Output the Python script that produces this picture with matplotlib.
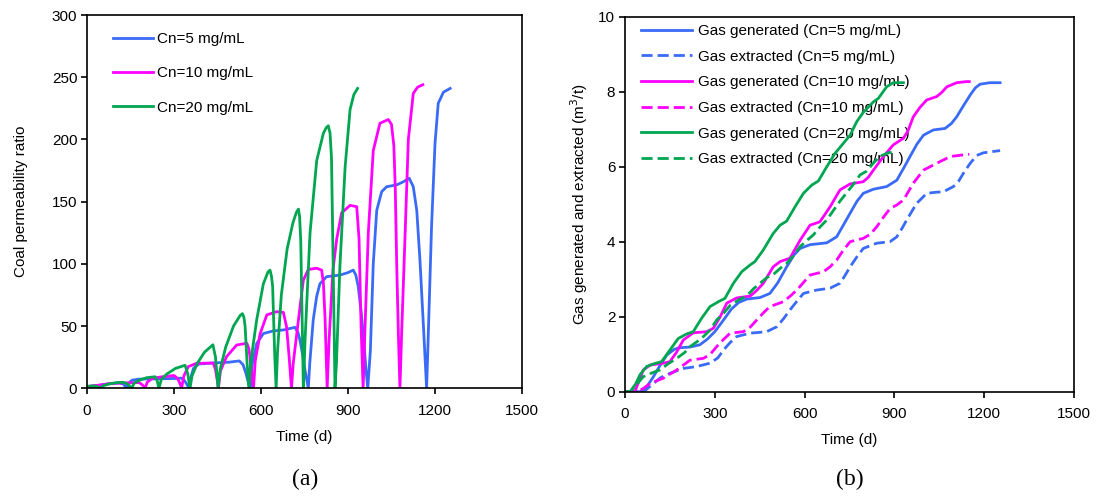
import matplotlib
matplotlib.use('Agg')
import matplotlib.pyplot as plt

plt.rcParams['font.family'] = ['Liberation Sans', 'DejaVu Sans']

# ---------- (a) coal permeability ratio ----------
perm_t_5 = [0, 30, 70, 110, 125, 132, 137,
            143, 155, 180, 240, 300, 325, 335, 345, 351,
            357, 367, 385, 430, 490, 525, 538, 548, 557, 563,
            570, 585, 608, 640, 680, 717, 727, 734, 745, 752, 763,
            768, 780, 792, 803, 826, 872, 900, 918, 927, 935, 945, 953, 962, 968,
            977, 987, 999, 1016, 1033, 1068, 1091, 1111, 1125, 1137, 1148, 1160, 1171,
            1177, 1188, 1200, 1211, 1229, 1252]
perm_v_5 = [1.2, 2.0, 3.5, 4.3, 3.5, 1.5, 0,
            4, 6.5, 7.4, 7.6, 7.9, 8.2, 6.5, 3, 0,
            8, 16, 19.5, 20.3, 21, 22, 19, 12, 4, 0,
            20, 36, 44, 46, 47, 49, 45, 39, 25, 14, 0,
            20, 55, 74, 84, 89.7, 91, 93, 95, 91, 82, 62, 42, 15, 0,
            30, 100, 143, 158, 162, 163.5, 166, 168.8, 162, 143, 103, 50, 0,
            45, 130, 197, 229, 238, 241]

perm_t_10 = [0, 40, 80, 120, 180, 192, 200,
             208, 225, 260, 300, 312, 320, 326,
             334, 349, 378, 435, 443, 448, 453,
             460, 481, 516, 551, 558, 562, 568, 574,
             580, 597, 620, 654, 677, 688, 697, 705,
             711, 729, 746, 763, 792, 809, 815, 821, 828,
             835, 848, 861, 878, 907, 930, 938, 945, 952,
             958, 970, 987, 1010, 1039, 1050, 1058, 1063, 1068, 1074, 1079,
             1085, 1097, 1108, 1125, 1140, 1158]
perm_v_10 = [1.5, 2.5, 3.8, 4.3, 4.6, 2.5, 0,
             5, 8, 9.3, 10.3, 8, 4, 0,
             10, 17.4, 20.1, 20.3, 15, 8, 0,
             14, 25.4, 34.8, 36.2, 32, 25, 10, 0,
             22, 44, 59, 61.6, 61, 49.5, 25, 0,
             20, 55, 87, 95.5, 96.5, 95, 85, 55, 0,
             40, 95, 120, 141, 147, 146, 120, 50, 0,
             45, 125, 191, 213, 216, 212, 195, 160, 98, 40, 0,
             45, 125, 200, 237, 242, 244]

perm_t_20 = [0, 20, 35, 45,
             55, 75, 100, 125, 140, 154,
             162, 180, 205, 235, 242, 248,
             256, 275, 305, 338, 347, 355,
             362, 380, 405, 434, 443, 452,
             459, 478, 505, 528, 536, 541, 545, 552, 558,
             565, 585, 608, 624, 631, 636, 640, 647, 652,
             657, 670, 690, 710, 722, 729, 733, 737, 741, 746,
             752, 769, 792, 815, 825, 832, 838, 843, 849, 855,
             860, 872, 890, 907, 920, 933]
perm_v_20 = [1.5, 2.0, 1.5, 0,
             2.0, 3.5, 4.5, 4.8, 3.5, 0,
             4.0, 6.5, 8.5, 9.3, 6, 0,
             7, 11.5, 16, 18.5, 12, 0,
             10, 20, 29, 35, 25, 0,
             15, 33, 50, 58.5, 60, 57, 50, 20, 0,
             22, 55, 84, 93.5, 95, 90, 82, 28, 0,
             30, 75, 112, 133, 141.5, 144, 138, 118, 65, 0,
             40, 125, 183, 205, 209.5, 211, 205, 185, 95, 0,
             20, 98, 178, 224, 236, 241]

# ---------- (b) gas generated / extracted ----------
gen_t_5 = [0, 50, 70, 95, 117, 140, 165, 180, 217, 250, 275, 300, 329, 355, 380, 407,
           451, 484, 510, 540, 565, 585, 618, 674, 707, 730, 752, 775, 796, 830, 874,
           908, 930, 952, 975, 997, 1030, 1069, 1090, 1108, 1130, 1153, 1170, 1186,
           1219, 1253]
gen_v_5 = [0, 0, 0.1, 0.4, 0.7, 0.98, 1.13, 1.17, 1.19, 1.25, 1.4, 1.6, 1.91, 2.2, 2.38,
           2.47, 2.51, 2.62, 2.9, 3.33, 3.65, 3.82, 3.92, 3.97, 4.13, 4.45, 4.76, 5.08,
           5.29, 5.4, 5.47, 5.64, 5.95, 6.27, 6.6, 6.84, 6.98, 7.02, 7.15, 7.33, 7.62,
           7.91, 8.1, 8.2, 8.24, 8.24]

ext_t_5 = [0, 50, 70, 95, 120, 150, 195, 239, 284, 310, 329, 350, 373, 418, 473, 507,
           530, 551, 575, 596, 640, 685, 718, 735, 752, 775, 796, 841, 885, 908, 925,
           941, 974, 1008, 1040, 1063, 1097, 1115, 1130, 1153, 1175, 1197, 1253]
ext_v_5 = [0, 0, 0.05, 0.22, 0.38, 0.49, 0.62, 0.67, 0.76, 0.9, 1.11, 1.3, 1.47, 1.56,
           1.6, 1.73, 1.95, 2.18, 2.42, 2.62, 2.71, 2.76, 2.89, 3.1, 3.33, 3.6, 3.82,
           3.96, 4.0, 4.13, 4.35, 4.58, 5.02, 5.29, 5.32, 5.33, 5.47, 5.62, 5.82, 6.09,
           6.3, 6.37, 6.43]

gen_t_10 = [0, 33, 61, 84, 128, 150, 172, 195, 228, 273, 295, 318, 340, 373, 418, 440,
            462, 495, 518, 551, 585, 618, 651, 685, 718, 752, 796, 813, 830, 863, 896,
            930, 945, 963, 985, 1008, 1041, 1058, 1075, 1108, 1141, 1150]
gen_v_10 = [0, 0, 0.58, 0.71, 0.76, 0.8, 1.05, 1.38, 1.57, 1.6, 1.69, 2.0, 2.36, 2.5,
            2.55, 2.7, 2.89, 3.33, 3.47, 3.56, 4.04, 4.44, 4.53, 4.93, 5.38, 5.54, 5.6,
            5.72, 5.91, 6.27, 6.58, 6.76, 6.95, 7.33, 7.58, 7.78, 7.87, 7.98, 8.13,
            8.24, 8.27, 8.27]

ext_t_10 = [0, 39, 60, 84, 128, 173, 217, 262, 285, 306, 330, 351, 395, 418, 440, 462,
            484, 529, 552, 574, 597, 618, 663, 685, 707, 730, 752, 796, 820, 841, 863,
            885, 908, 930, 963, 997, 1041, 1086, 1125, 1150]
ext_v_10 = [0, 0, 0.08, 0.22, 0.36, 0.58, 0.84, 0.89, 1.0, 1.2, 1.4, 1.56, 1.6, 1.72,
            1.91, 2.1, 2.27, 2.4, 2.55, 2.71, 2.92, 3.11, 3.2, 3.33, 3.51, 3.78, 4.0,
            4.09, 4.2, 4.4, 4.65, 4.88, 4.98, 5.11, 5.56, 5.91, 6.09, 6.27, 6.31, 6.33]

gen_t_20 = [0, 17, 35, 50, 72, 95, 122, 150, 178, 206, 228, 256, 284, 312, 334, 362,
            390, 418, 434, 462, 495, 518, 540, 568, 596, 624, 646, 674, 702, 729, 752,
            774, 796, 830, 846, 874, 896, 930]
gen_v_20 = [0, 0, 0.2, 0.45, 0.67, 0.74, 0.8, 1.11, 1.42, 1.54, 1.6, 1.96, 2.27, 2.4,
            2.49, 2.89, 3.2, 3.38, 3.47, 3.78, 4.22, 4.44, 4.55, 4.93, 5.29, 5.51, 5.62,
            6.0, 6.36, 6.62, 6.84, 7.2, 7.45, 7.73, 7.82, 8.13, 8.24, 8.24]

ext_t_20 = [0, 17, 40, 61, 90, 117, 145, 173, 200, 217, 240, 262, 285, 306, 330, 351,
            380, 406, 430, 451, 475, 496, 520, 540, 565, 585, 610, 629, 650, 674, 695,
            718, 740, 763, 785, 807, 830, 852, 880, 905]
ext_v_20 = [0, 0, 0.2, 0.4, 0.5, 0.58, 0.75, 0.89, 1.05, 1.2, 1.33, 1.47, 1.65, 1.91,
            2.1, 2.3, 2.45, 2.55, 2.75, 2.89, 3.05, 3.13, 3.3, 3.42, 3.65, 3.87, 4.05,
            4.18, 4.38, 4.58, 4.82, 5.08, 5.3, 5.53, 5.78, 5.88, 6.1, 6.28, 6.37, 6.4]

c_blue = '#3A6BF7'
c_mag = '#FF00FF'
c_green = '#00A650'

fig = plt.figure(figsize=(10.99, 4.97), dpi=100, facecolor='white')
ax1 = fig.add_axes([0.0792, 0.2187, 0.3958, 0.7511])
ax2 = fig.add_axes([0.5687, 0.2119, 0.4086, 0.7545])

lw = 2.0
ax1.plot(perm_t_5, perm_v_5, color=c_blue, lw=lw, label='Cn=5 mg/mL')
ax1.plot(perm_t_10, perm_v_10, color=c_mag, lw=lw, label='Cn=10 mg/mL')
ax1.plot(perm_t_20, perm_v_20, color=c_green, lw=lw, label='Cn=20 mg/mL')

dash = (4, 1.8)
ax2.plot(gen_t_5, gen_v_5, color=c_blue, lw=lw, label='Gas generated (Cn=5 mg/mL)')
ax2.plot(ext_t_5, ext_v_5, color=c_blue, lw=lw, dashes=dash, label='Gas extracted (Cn=5 mg/mL)')
ax2.plot(gen_t_10, gen_v_10, color=c_mag, lw=lw, label='Gas generated (Cn=10 mg/mL)')
ax2.plot(ext_t_10, ext_v_10, color=c_mag, lw=lw, dashes=dash, label='Gas extracted (Cn=10 mg/mL)')
ax2.plot(gen_t_20, gen_v_20, color=c_green, lw=lw, label='Gas generated (Cn=20 mg/mL)')
ax2.plot(ext_t_20, ext_v_20, color=c_green, lw=lw, dashes=dash, label='Gas extracted (Cn=20 mg/mL)')

for ax in (ax1, ax2):
    ax.set_xlim(0, 1500)
    ax.set_xticks(range(0, 1501, 300))
    ax.tick_params(direction='out', length=4, width=1.2, labelsize=11)
    ax.tick_params(axis='x', pad=7)
    ax.tick_params(axis='y', pad=3)
    for s in ax.spines.values():
        s.set_linewidth(1.2)
    ax.set_xlabel('Time (d)', fontsize=11, labelpad=9)

ax1.set_ylim(0, 300)
ax1.set_yticks(range(0, 301, 50))
ax1.set_ylabel('Coal permeability ratio', fontsize=11, labelpad=17)

ax2.set_ylim(0, 10)
ax2.set_yticks(range(0, 11, 2))
ax2.set_ylabel('Gas generated and extracted (m$^3$/t)', fontsize=11, labelpad=6)

leg1 = ax1.legend(loc='upper left', bbox_to_anchor=(0.06, 0.954), frameon=False,
                  fontsize=11, handlelength=2.6, handletextpad=0.3,
                  labelspacing=1.32, borderpad=0, borderaxespad=0)
leg2 = ax2.legend(loc='upper left', bbox_to_anchor=(0.036, 0.980), frameon=False,
                  fontsize=11, handlelength=3.3, handletextpad=0.4,
                  labelspacing=0.76, borderpad=0, borderaxespad=0)
leg2.set_zorder(1)

fig.text(305 / 1099, 1 - 479 / 497, '(a)', family='Liberation Serif', fontsize=17,
         ha='center', va='center')
fig.text(850 / 1099, 1 - 479 / 497, '(b)', family='Liberation Serif', fontsize=17,
         ha='center', va='center')

fig.savefig('out.png', dpi=100, facecolor='white')
